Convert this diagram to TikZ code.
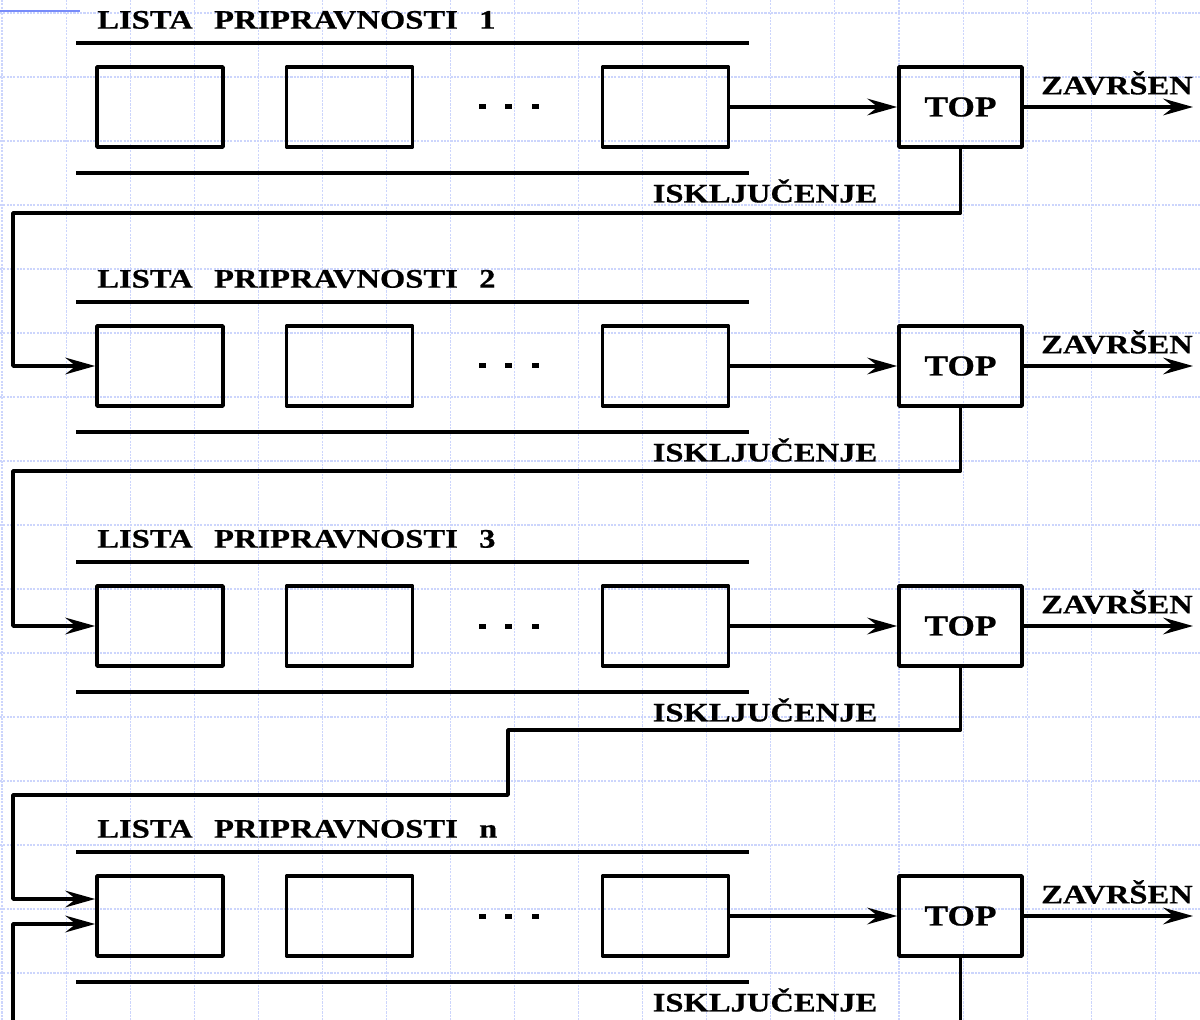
\documentclass[tikz,border=0pt]{standalone}
\usepackage{fontspec}
\setmainfont{Liberation Serif}
\newfontfamily\lblfont{Liberation Serif}[FakeStretch=1.22,FakeBold=0.6]
\usetikzlibrary{arrows.meta,positioning,calc}
\definecolor{gridblue}{RGB}{204,213,252}
\definecolor{markblue}{RGB}{120,140,250}
\tikzset{pcb/.style={draw,line width=2.1pt,line join=round,minimum width=2.52cm,minimum height=1.6cm,inner sep=0pt},
  topbox/.style={pcb,minimum width=2.46cm,font=\lblfont\bfseries\fontsize{16.5}{18}\selectfont},
  lbl/.style={inner sep=0pt,font=\lblfont\bfseries\fontsize{15.2}{17}\selectfont},
  bar/.style={line width=2.4pt},
  link/.style={line width=2.1pt,line join=round},
  arr/.style={link,-{Stealth[length=17pt,width=9.5pt,inset=6pt]}}}

\begin{document}
\begin{tikzpicture}[x=0.02cm,y=-0.02cm]
\useasboundingbox (0,0) rectangle (1200,1020);
% background grid
\foreach \i in {0,...,18}{\draw[gridblue,line width=0.6pt,dash pattern=on 1.2pt off 0.7pt] ({2+64.07*\i},0)--({2+64.07*\i},1020);}
\foreach \j in {0,...,15}{\draw[gridblue,line width=0.6pt,dash pattern=on 1.2pt off 0.7pt] (0,{13+64*\j})--(1200,{13+64*\j});}
\draw[markblue,line width=1.2pt] (0,11)--(80,11);
% one ready list per row
\foreach \r/\cy/\t in {1/107/1,2/366/2,3/626/3,4/916/n}{
  \node[lbl,anchor=west] (title\r) at (97,{\cy-87}) {LISTA\hspace{0.8em}PRIPRAVNOSTI\hspace{0.8em}\t};
  \draw[bar] (76,{\cy-64})--(749,{\cy-64});
  \draw[bar] (76,{\cy+66})--(749,{\cy+66});
  \node[pcb] (a\r) at (160,\cy) {};
  \node[pcb] (b\r) at (349.5,\cy) {};
  \node[pcb] (c\r) at (665.5,\cy) {};
  \foreach \dx in {482,508,535}{\fill (\dx-3.5,{\cy-2.5}) rectangle ++(7,5);}
  \node[topbox] (top\r) at (960.5,\cy) {TOP};
  \draw[arr] (c\r)--(top\r);
  \coordinate (out\r) at (1193,\cy);
  \draw[arr] (top\r)--(out\r);
  \node[lbl] (done\r) at (1117,{\cy-24}) {ZAVRŠEN};
  \node[lbl] (off\r) at (765,{\cy+84}) {ISKLJUČENJE};
}
% preempted processes go back to the next list
\draw[arr] (top1.south) |- (13,213) |- (a2.west);
\draw[arr] (top2.south) |- (13,471) |- (a3.west);
\draw[arr] (top3.south) |- (508,730) |- (13,795) |- ([yshift=0.34cm]a4.west);
\coordinate (in4) at (13,1020);
\draw[arr] (in4) |- ([yshift=-0.16cm]a4.west);
\coordinate (drop4) at (960.5,1020);
\draw[link] (top4.south)--(drop4);
\end{tikzpicture}
\end{document}
